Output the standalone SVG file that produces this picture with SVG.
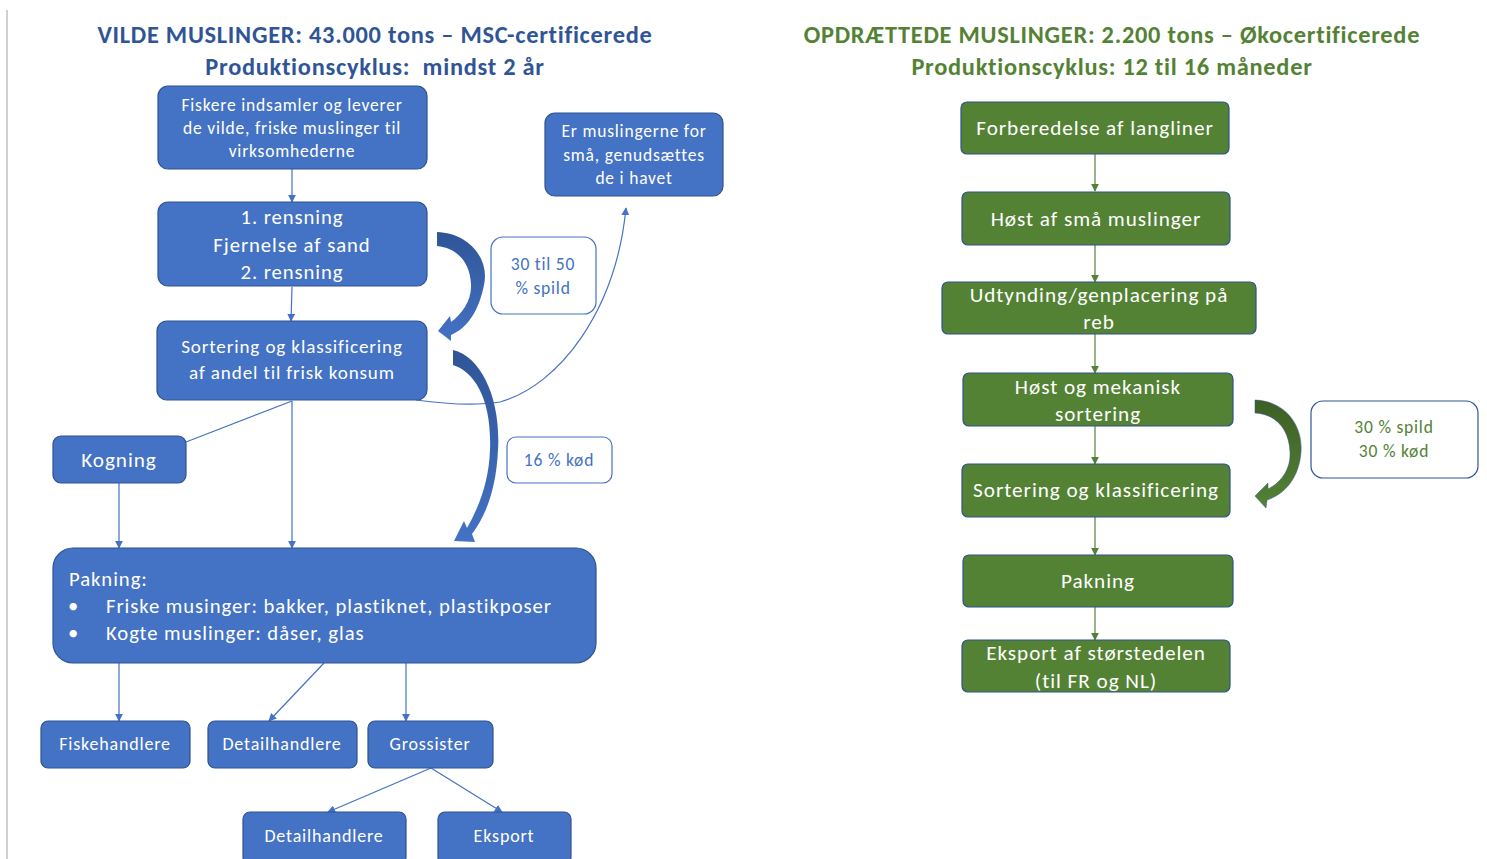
<svg xmlns="http://www.w3.org/2000/svg" width="1487" height="859" viewBox="0 0 1487 859">
<defs>
<style>
text{font-family:Carlito,Lato,"Liberation Sans",sans-serif;letter-spacing:0.045em;}
.bn{fill:#4472c4;stroke:#2f528f;stroke-width:1.2;}
.gn{fill:#548235;stroke:#2f528f;stroke-width:1.2;}
.lb{fill:#ffffff;stroke:#4472c4;stroke-width:1.2;}
.lbg{fill:#ffffff;stroke:#2f5597;stroke-width:1.2;}
.wt{fill:#ffffff;text-anchor:middle;}
.bt{fill:#4472c4;text-anchor:middle;font-size:17.5px;}
.gt{fill:#548235;text-anchor:middle;font-size:17.5px;}
.ttl{font-weight:bold;font-size:24.4px;text-anchor:middle;letter-spacing:0.03em;}
.cb{fill:none;stroke:#4472c4;stroke-width:1.2;}
.cg{fill:none;stroke:#548235;stroke-width:1.2;}
</style>
<marker id="ab" viewBox="0 0 10 10" refX="9" refY="5" markerWidth="8" markerHeight="8" markerUnits="userSpaceOnUse" orient="auto"><path d="M0,0 L10,5 L0,10 Z" fill="#4472c4"/></marker>
<marker id="ag" viewBox="0 0 10 10" refX="9" refY="5" markerWidth="8" markerHeight="8" markerUnits="userSpaceOnUse" orient="auto"><path d="M0,0 L10,5 L0,10 Z" fill="#548235"/></marker>
<linearGradient id="gb1" x1="0" y1="0" x2="0" y2="1"><stop offset="0" stop-color="#2f5597"/><stop offset="1" stop-color="#4472c4"/></linearGradient>
<linearGradient id="gg1" x1="0" y1="0" x2="0" y2="1"><stop offset="0" stop-color="#3d5f26"/><stop offset="1" stop-color="#548235"/></linearGradient>
</defs>
<rect width="1487" height="859" fill="#ffffff"/>
<line x1="7" y1="10" x2="7" y2="859" stroke="#d0d0d0" stroke-width="2"/>

<g id="titles">
<text class="ttl" x="375" y="43" fill="#2f5597">VILDE MUSLINGER: 43.000 tons – MSC-certificerede</text>
<text class="ttl" x="375" y="75" fill="#2f5597" xml:space="preserve">Produktionscyklus:  mindst 2 år</text>
<text class="ttl" x="1112" y="43" fill="#548235">OPDRÆTTEDE MUSLINGER: 2.200 tons – Økocertificerede</text>
<text class="ttl" x="1112" y="75" fill="#548235">Produktionscyklus: 12 til 16 måneder</text>
</g>

<g id="connectors">
<line class="cb" x1="292" y1="169" x2="292" y2="202" marker-end="url(#ab)"/>
<line class="cb" x1="292" y1="287" x2="291" y2="321" marker-end="url(#ab)"/>
<line class="cb" x1="292" y1="401" x2="186" y2="442"/>
<line class="cb" x1="292" y1="401" x2="292" y2="548" marker-end="url(#ab)"/>
<line class="cb" x1="119" y1="483" x2="119" y2="548" marker-end="url(#ab)"/>
<path class="cb" d="M416 400 C445 404 475 406 500 402 C560 385 616 310 626 208" marker-end="url(#ab)"/>
<line class="cb" x1="119" y1="663" x2="119" y2="721" marker-end="url(#ab)"/>
<line class="cb" x1="324" y1="663" x2="269" y2="721" marker-end="url(#ab)"/>
<line class="cb" x1="406" y1="663" x2="406" y2="721" marker-end="url(#ab)"/>
<line class="cb" x1="431" y1="768" x2="328" y2="812" marker-end="url(#ab)"/>
<line class="cb" x1="431" y1="768" x2="502" y2="812" marker-end="url(#ab)"/>
<line class="cg" x1="1095" y1="154" x2="1095" y2="191" marker-end="url(#ag)"/>
<line class="cg" x1="1095" y1="245" x2="1095" y2="282" marker-end="url(#ag)"/>
<line class="cg" x1="1095" y1="334" x2="1095" y2="373" marker-end="url(#ag)"/>
<line class="cg" x1="1095" y1="426" x2="1095" y2="464" marker-end="url(#ag)"/>
<line class="cg" x1="1095" y1="517" x2="1095" y2="555" marker-end="url(#ag)"/>
<line class="cg" x1="1095" y1="607" x2="1095" y2="640" marker-end="url(#ag)"/>
<path id="curve1" d="M437 232 C468 233 490 258 484 285 C479 310 468 328 451 335 L451 341 L438 331 L450 316 L451 322 C462 314 472 300 471 284 C470 262 457 248 437 246 Z" fill="url(#gb1)"/>
<path id="curve2" d="M453 350 C482 357 501 400 498 450 C496 490 486 515 472 534 L475 542 L454 541 L464 521 L467 528 C480 505 489 480 490 450 C492 400 475 372 453 365 Z" fill="url(#gb1)"/>
<path id="curve3" d="M1255 400 C1285 401 1303 425 1301 452 C1299 478 1285 494 1267 500 L1266 508 L1255 496 L1268 483 L1268 489 C1282 482 1291 468 1290 452 C1289 428 1275 414 1255 413 Z" fill="url(#gg1)" stroke="#2f528f" stroke-width="0.5"/>
</g>

<g id="n-fiskere"><rect class="bn" x="158" y="86" width="269" height="83" rx="10"/>
<text class="wt" font-size="17.5" x="292" y="111">Fiskere indsamler og leverer</text>
<text class="wt" font-size="17.5" x="292" y="134">de vilde, friske muslinger til</text>
<text class="wt" font-size="17.5" x="292" y="157">virksomhederne</text></g>

<g id="n-rensning"><rect class="bn" x="158" y="202" width="269" height="84" rx="10"/>
<text class="wt" font-size="20.7" x="292" y="224">1. rensning</text>
<text class="wt" font-size="20.7" x="292" y="252">Fjernelse af sand</text>
<text class="wt" font-size="20.7" x="292" y="279">2. rensning</text></g>

<g id="n-sortering"><rect class="bn" x="157" y="321" width="270" height="79" rx="10"/>
<text class="wt" font-size="19.1" x="292" y="353">Sortering og klassificering</text>
<text class="wt" font-size="19.1" x="292" y="379">af andel til frisk konsum</text></g>

<g id="n-genudsaet"><rect class="bn" x="545" y="113" width="178" height="83" rx="10"/>
<text class="wt" font-size="17.5" x="634" y="137">Er muslingerne for</text>
<text class="wt" font-size="17.5" x="634" y="161">små, genudsættes</text>
<text class="wt" font-size="17.5" x="634" y="184">de i havet</text></g>

<g id="l-spild"><rect class="lb" x="491" y="237" width="105" height="77" rx="12"/>
<text class="bt" x="543" y="270">30 til 50</text>
<text class="bt" x="543" y="294">% spild</text></g>

<g id="l-kod"><rect class="lb" x="507" y="437" width="105" height="46" rx="9"/>
<text class="bt" x="559" y="466">16 % kød</text></g>

<g id="n-kogning"><rect class="bn" x="53" y="436" width="133" height="47" rx="8"/>
<text class="wt" font-size="21.2" x="119" y="467">Kogning</text></g>

<g id="n-pakning"><rect class="bn" x="53" y="548" width="543" height="115" rx="20"/>
<text fill="#ffffff" font-size="20.7" x="69" y="586">Pakning:</text>
<text fill="#ffffff" font-size="20.7" x="68" y="613">•</text>
<text fill="#ffffff" font-size="20.7" x="106" y="613">Friske musinger: bakker, plastiknet, plastikposer</text>
<text fill="#ffffff" font-size="20.7" x="68" y="640">•</text>
<text fill="#ffffff" font-size="20.7" x="106" y="640">Kogte muslinger: dåser, glas</text></g>

<g id="n-fiskehandlere"><rect class="bn" x="41" y="721" width="149" height="47" rx="7"/>
<text class="wt" font-size="18" x="115" y="750">Fiskehandlere</text></g>
<g id="n-detail1"><rect class="bn" x="208" y="721" width="149" height="47" rx="7"/>
<text class="wt" font-size="18" x="282" y="750">Detailhandlere</text></g>
<g id="n-grossister"><rect class="bn" x="368" y="721" width="125" height="47" rx="7"/>
<text class="wt" font-size="18" x="430" y="750">Grossister</text></g>
<g id="n-detail2"><rect class="bn" x="243" y="812" width="163" height="52" rx="7"/>
<text class="wt" font-size="18" x="324" y="842">Detailhandlere</text></g>
<g id="n-eksport"><rect class="bn" x="438" y="812" width="133" height="52" rx="7"/>
<text class="wt" font-size="18" x="504" y="842">Eksport</text></g>

<g id="g-forberedelse"><rect class="gn" x="961" y="102" width="268" height="52" rx="6"/>
<text class="wt" font-size="21.2" x="1095" y="135">Forberedelse af langliner</text></g>
<g id="g-host"><rect class="gn" x="962" y="192" width="268" height="53" rx="6"/>
<text class="wt" font-size="21.2" x="1096" y="226">Høst af små muslinger</text></g>
<g id="g-udtynding"><rect class="gn" x="942" y="282" width="314" height="52" rx="6"/>
<text class="wt" font-size="21.2" x="1099" y="302">Udtynding/genplacering på</text>
<text class="wt" font-size="21.2" x="1099" y="329">reb</text></g>
<g id="g-mekanisk"><rect class="gn" x="963" y="373" width="270" height="53" rx="6"/>
<text class="wt" font-size="21.2" x="1098" y="394">Høst og mekanisk</text>
<text class="wt" font-size="21.2" x="1098" y="421">sortering</text></g>
<g id="g-sortering"><rect class="gn" x="962" y="464" width="268" height="53" rx="6"/>
<text class="wt" font-size="21.2" x="1096" y="497">Sortering og klassificering</text></g>
<g id="g-pakning"><rect class="gn" x="963" y="555" width="270" height="52" rx="6"/>
<text class="wt" font-size="21.2" x="1098" y="588">Pakning</text></g>
<g id="g-eksport"><rect class="gn" x="962" y="640" width="268" height="52" rx="6"/>
<text class="wt" font-size="21.2" x="1096" y="660">Eksport af størstedelen</text>
<text class="wt" font-size="21.2" x="1096" y="688">(til FR og NL)</text></g>

<g id="l-green"><rect class="lbg" x="1311" y="401" width="167" height="77" rx="12"/>
<text class="gt" x="1394" y="433">30 % spild</text>
<text class="gt" x="1394" y="457">30 % kød</text></g>
</svg>
